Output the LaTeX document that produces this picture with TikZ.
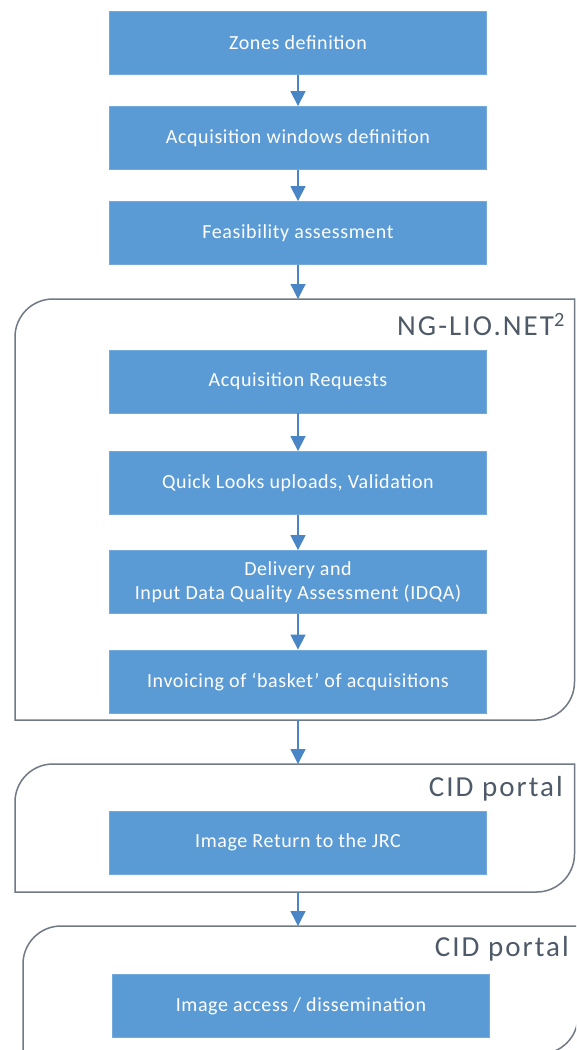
\documentclass[tikz,border=0pt]{standalone}
\usepackage{fontspec}
\setmainfont{Carlito}
\newfontfamily\boxfont[LetterSpace=3]{Carlito}
\newfontfamily\labelfont[LetterSpace=7]{Carlito}
\usetikzlibrary{arrows.meta}
\definecolor{boxblue}{RGB}{91,155,213}
\definecolor{arrowblue}{RGB}{74,134,197}
\definecolor{framegrey}{RGB}{112,121,132}
\definecolor{labelgrey}{RGB}{78,90,104}
\tikzset{
  stepbox/.style={draw=boxblue!85!white, line width=0.8pt, fill=boxblue,
    minimum width=377pt, minimum height=63pt, inner sep=0pt,
    text=white, font=\boxfont\fontsize{20}{24}\selectfont, align=center},
  flow/.style={draw=arrowblue, line width=1.3pt,
    -{Triangle[width=15pt,length=15pt]}},
  frame/.style={draw=framegrey, line width=1.5pt},
  framelabel/.style={text=labelgrey, font=\labelfont\fontsize{29}{31}\selectfont,
    anchor=east, inner sep=0pt}
}
\begin{document}
\begin{tikzpicture}[x=1pt,y=1pt]
\clip (0,0) rectangle (576,-1050);
\fill[white] (0,0) rectangle (576,-1050);

% preparation steps
\node[stepbox] (zones) at (298,-43) {Zones definition};
\node[stepbox] (windows) at (298,-138) {Acquisition windows definition};
\node[stepbox] (feas) at (298,-233) {Feasibility assessment};

% NG-LIO.NET frame
\draw[frame] (15,-720) -- (15,-337) arc[start angle=180,end angle=90,radius=38]
  -- (574.5,-299) -- (574.5,-682) arc[start angle=0,end angle=-90,radius=38] -- cycle;
\coordinate (ngtop) at (298,-299);
\coordinate (ngbot) at (298,-720);
\node[framelabel] (nglabel) at (565,-325) {NG-LIO.NET\textsuperscript{2}};

\node[stepbox] (req) at (298,-381.5) {Acquisition Requests};
\node[stepbox] (ql) at (298,-483) {Quick Looks uploads, Validation};
\node[stepbox] (deliv) at (298,-582) {Delivery and\\Input Data Quality Assessment (IDQA)};
\node[stepbox] (inv) at (298,-681.5) {Invoicing of ‘basket’ of acquisitions};

% first CID portal frame
\draw[frame] (15,-892) -- (15,-802) arc[start angle=180,end angle=90,radius=38]
  -- (574.5,-764) -- (574.5,-854) arc[start angle=0,end angle=-90,radius=38] -- cycle;
\coordinate (cidatop) at (298,-764);
\coordinate (cidabot) at (298,-892);
\node[framelabel] (cidalabel) at (563,-789) {CID portal};
\node[stepbox] (ret) at (298,-842.5) {Image Return to the JRC};

% second CID portal frame
\draw[frame] (23,-1054) -- (23,-964) arc[start angle=180,end angle=90,radius=38]
  -- (578,-926) -- (578,-1016) arc[start angle=0,end angle=-90,radius=38] -- cycle;
\coordinate (cidbtop) at (298,-926);
\node[framelabel] (cidblabel) at (569,-949) {CID portal};
\node[stepbox] (access) at (301,-1006) {Image access / dissemination};

% connectors
\draw[flow] (zones) -- (windows);
\draw[flow] (windows) -- (feas);
\draw[flow] (feas) -- (ngtop);
\draw[flow] (req) -- (ql);
\draw[flow] (ql) -- (deliv);
\draw[flow] (deliv) -- (inv);
\draw[flow] (ngbot) -- (cidatop);
\draw[flow] (cidabot) -- (cidbtop);
\end{tikzpicture}
\end{document}
